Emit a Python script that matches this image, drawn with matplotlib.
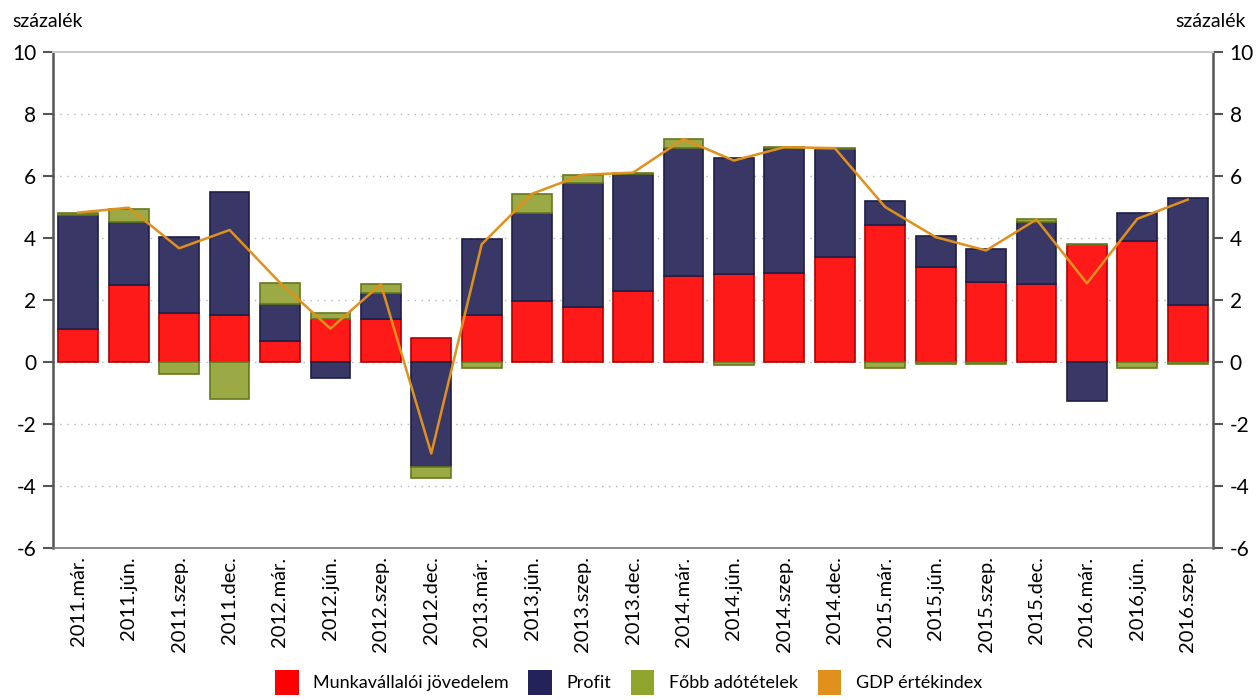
"""Hungarian GDP value index decomposition chart."""

import numpy as np
import matplotlib
matplotlib.use("Agg")
import matplotlib.pyplot as plt
from matplotlib.patches import Patch

plt.rcParams['font.family'] = ['Lato', 'DejaVu Sans']
plt.rcParams['axes.unicode_minus'] = False

labels = ["2011.már.", "2011.jún.", "2011.szep.", "2011.dec.",
          "2012.már.", "2012.jún.", "2012.szep.", "2012.dec.",
          "2013.már.", "2013.jún.", "2013.szep.", "2013.dec.",
          "2014.már.", "2014.jún.", "2014.szep.", "2014.dec.",
          "2015.már.", "2015.jún.", "2015.szep.", "2015.dec.",
          "2016.már.", "2016.jún.", "2016.szep."]

munka = [1.07, 2.49, 1.58, 1.53, 0.67, 1.40, 1.40, 0.78, 1.53, 1.96, 1.77, 2.28,
         2.79, 2.84, 2.88, 3.40, 4.42, 3.06, 2.58, 2.52, 3.76, 3.91, 1.84]
profit = [3.66, 2.03, 2.46, 3.95, 1.21, -0.50, 0.84, -3.39, 2.45, 2.86, 4.01, 3.79,
          4.13, 3.73, 4.02, 3.48, 0.78, 1.02, 1.06, 2.01, -1.26, 0.91, 3.45]
ado = [0.09, 0.43, -0.37, -1.20, 0.68, 0.18, 0.27, -0.34, -0.18, 0.61, 0.26, 0.04,
       0.27, -0.08, 0.05, 0.04, -0.20, -0.05, -0.05, 0.07, 0.04, -0.20, -0.05]
gdp = [4.82, 4.98, 3.67, 4.26, 2.56, 1.08, 2.51, -2.95, 3.80, 5.43, 6.04, 6.11,
       7.19, 6.50, 6.93, 6.90, 5.00, 4.03, 3.60, 4.60, 2.54, 4.62, 5.24]

series = [
    (munka, '#FF1A1A', '#B00000', 'Munkavállalói jövedelem', '#FF0000'),
    (profit, '#383766', '#1E1E48', 'Profit', '#23235A'),
    (ado, '#9BAA44', '#66781E', 'Főbb adótételek', '#8FA52C'),
]
LINE_CLR = '#E0901C'

fig = plt.figure(figsize=(12.57, 7.0), dpi=100)
ax = fig.add_axes([0.0422, 0.217, 0.9228, 0.7087])

x = np.arange(len(labels))
pos_base = np.zeros(len(labels))
neg_base = np.zeros(len(labels))
for vals, fc, ec, name, _ in series:
    v = np.array(vals)
    base = np.where(v >= 0, pos_base, neg_base)
    ax.bar(x, v, 0.79, bottom=base, color=fc, edgecolor=ec, linewidth=1.2, zorder=2)
    pos_base += np.where(v >= 0, v, 0)
    neg_base += np.where(v < 0, v, 0)

ax.plot(x, gdp, color=LINE_CLR, linewidth=1.8, zorder=3)

ax.set_xlim(-0.5, len(labels) - 0.5)
ax.set_ylim(-6, 10)
ax.set_yticks(range(-6, 11, 2))
ax.set_xticks(x)
ax.set_xticklabels(labels, rotation=90, fontsize=14.5)

for yv in range(-4, 10, 2):
    ax.axhline(yv, color='#B5B5B5', linestyle=(0, (1, 4)), linewidth=1.0, zorder=1)

for side in ['left', 'right']:
    ax.spines[side].set_color('#555555')
    ax.spines[side].set_linewidth(1.8)
ax.spines['top'].set_color('#C8C8C8')
ax.spines['top'].set_linewidth(1.5)
ax.spines['bottom'].set_color('#777777')
ax.spines['bottom'].set_linewidth(1.2)

ax.tick_params(axis='y', which='both', left=True, right=True, labelleft=True,
               labelright=True, direction='out', length=7, width=1.5,
               color='#555555', labelsize=15, pad=5)
ax.tick_params(axis='x', length=0, pad=6)

fig.text(0.010, 0.982, 'százalék', fontsize=14, va='top', ha='left')
fig.text(0.991, 0.982, 'százalék', fontsize=14, va='top', ha='right')

handles = [Patch(facecolor=lc, edgecolor='none', label=name)
           for _, _, _, name, lc in series]
handles.append(Patch(facecolor=LINE_CLR, edgecolor='none', label='GDP értékindex'))
fig.legend(handles=handles, loc='lower center', bbox_to_anchor=(0.5, -0.016), ncol=4,
           frameon=False, fontsize=13, handlelength=1.3, handleheight=1.75,
           handletextpad=0.8, columnspacing=1.1)

fig.savefig('out.png', dpi=100)
